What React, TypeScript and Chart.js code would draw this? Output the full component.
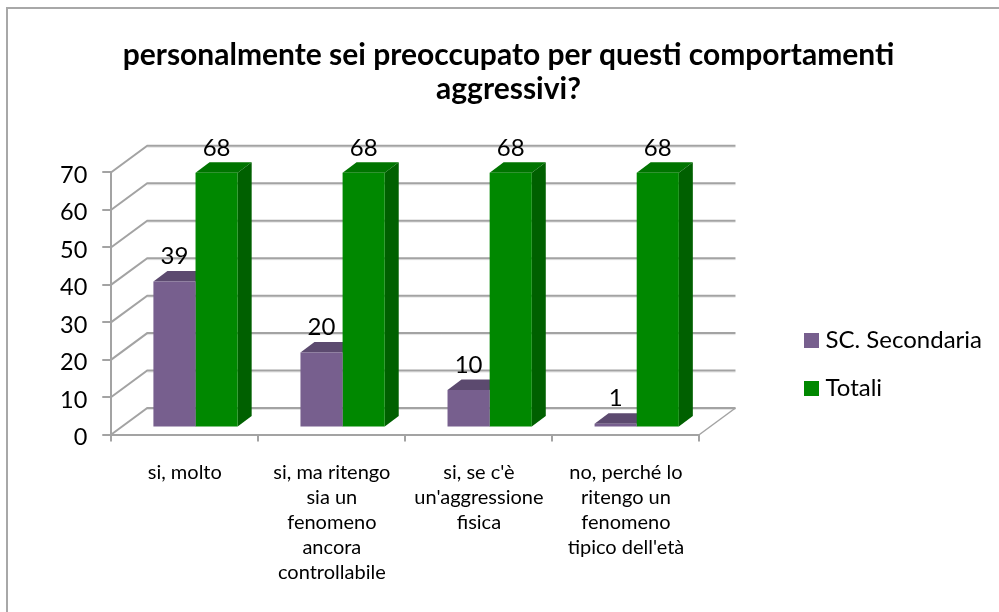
import React, { useEffect, useRef } from "react";
import { Chart, registerables } from "chart.js";

Chart.register(...registerables);

const categories: (string | string[])[] = [
  "si, molto",
  ["si, ma ritengo", "sia un", "fenomeno", "ancora", "controllabile"],
  ["si, se c'è", "un'aggressione", "fisica"],
  ["no, perché lo", "ritengo un", "fenomeno", "tipico dell'età"],
];
const secondaria = [39, 20, 10, 1];
const totali = [68, 68, 68, 68];
const titleLines = ["personalmente sei preoccupato per questi comportamenti", "aggressivi?"];
const FONT = "Lato, Carlito, sans-serif";
const GRID = "#a3a3a3";

const shift = { x: 10.75, y: -7 };
const depth = { x: 14, y: -10.5 };
const wall = { x: 36, y: -26.5 };
const faces: Record<string, { top: string; side: string }> = {
  "SC. Secondaria": { top: "#5c4a6f", side: "#4f3f60" },
  Totali: { top: "#007400", side: "#006000" },
};

function swatch(color: string) {
  const c = document.createElement("canvas");
  c.width = 15;
  c.height = 15;
  const g = c.getContext("2d")!;
  g.fillStyle = color;
  g.fillRect(0, 0, 15, 15);
  return c;
}

const scene = {
  id: "scene",
  afterLayout(chart: any) {
    chart.titleBlock.left = 18;
    chart.titleBlock.right = 999;
    const lg = chart.legend;
    const pad = 24;
    const w = lg.right - lg.left;
    lg.left = 809.5 - pad;
    lg.right = lg.left + w;
    lg.top = 328.5 - pad;
    lg.bottom = lg.top + lg.columnSizes[0].height + pad;
  },
  beforeDraw(chart: any) {
    const { ctx, chartArea: a, scales } = chart;
    ctx.save();
    ctx.fillStyle = "#fff";
    ctx.fillRect(0, 0, chart.width, chart.height);
    ctx.strokeStyle = "#a8a8a8";
    ctx.lineWidth = 2;
    ctx.beginPath();
    ctx.moveTo(7, 612);
    ctx.lineTo(7, 8);
    ctx.lineTo(999, 8);
    ctx.stroke();
    const y = scales.y;
    y.ticks.forEach((t: any) => {
      const py = y.getPixelForValue(t.value);
      ctx.strokeStyle = "rgba(166,166,166,0.3)";
      ctx.lineWidth = 1;
      ctx.beginPath();
      ctx.moveTo(a.left + wall.x, py + wall.y + 1.5);
      ctx.lineTo(a.right + wall.x, py + wall.y + 1.5);
      ctx.stroke();
      ctx.strokeStyle = GRID;
      ctx.lineWidth = 2;
      ctx.beginPath();
      ctx.moveTo(a.left, py);
      ctx.lineTo(a.left + wall.x, py + wall.y);
      ctx.lineTo(a.right + wall.x, py + wall.y);
      ctx.stroke();
    });
    const p0 = y.getPixelForValue(0);
    ctx.strokeStyle = GRID;
    ctx.lineWidth = 1.5;
    ctx.beginPath();
    ctx.moveTo(a.right, p0);
    ctx.lineTo(a.right + wall.x, p0 + wall.y);
    ctx.stroke();
    ctx.restore();
  },
  beforeDatasetsDraw(chart: any) {
    const { ctx } = chart;
    ctx.save();
    ctx.translate(shift.x, shift.y);
    chart.data.datasets.forEach((ds: any, i: number) => {
      const f = faces[ds.label];
      chart.getDatasetMeta(i).data.forEach((bar: any) => {
        const l = bar.x - bar.width / 2;
        const r = bar.x + bar.width / 2;
        ctx.fillStyle = f.top;
        ctx.beginPath();
        ctx.moveTo(l, bar.y);
        ctx.lineTo(l + depth.x, bar.y + depth.y);
        ctx.lineTo(r + depth.x, bar.y + depth.y);
        ctx.lineTo(r, bar.y);
        ctx.closePath();
        ctx.fill();
        ctx.fillStyle = f.side;
        ctx.beginPath();
        ctx.moveTo(r, bar.y);
        ctx.lineTo(r + depth.x, bar.y + depth.y);
        ctx.lineTo(r + depth.x, bar.base + depth.y);
        ctx.lineTo(r, bar.base);
        ctx.closePath();
        ctx.fill();
      });
    });
  },
  afterDatasetsDraw(chart: any) {
    const { ctx } = chart;
    ctx.restore();
    ctx.save();
    ctx.fillStyle = "#000";
    ctx.font = `24px ${FONT}`;
    ctx.textAlign = "center";
    ctx.textBaseline = "middle";
    chart.data.datasets.forEach((ds: any, i: number) => {
      chart.getDatasetMeta(i).data.forEach((bar: any, j: number) => {
        ctx.fillText(String(ds.data[j]), bar.x + shift.x, bar.y + shift.y - 25);
      });
    });
    ctx.restore();
  },
};

export default function App() {
  const ref = useRef<HTMLCanvasElement>(null);
  useEffect(() => {
    const chart = new Chart(ref.current!, {
      type: "bar",
      data: {
        labels: categories as any,
        datasets: [
          { label: "SC. Secondaria", data: secondaria, backgroundColor: "#775f8e", pointStyle: swatch("#775f8e") as any },
          { label: "Totali", data: totali, backgroundColor: "#008800", pointStyle: swatch("#008800") as any },
        ],
      },
      options: {
        responsive: false,
        animation: false,
        datasets: { bar: { categoryPercentage: 0.573, barPercentage: 1 } },
        layout: { padding: { left: 45, right: 93, top: 38.5, bottom: 7.5 } },
        scales: {
          x: {
            grid: { drawOnChartArea: false, color: GRID, lineWidth: 2, tickLength: 7 },
            border: { color: GRID, width: 2 },
            ticks: {
              color: "#000",
              font: { family: FONT, size: 20, lineHeight: 1.25 },
              padding: 19,
              maxRotation: 0,
              minRotation: 0,
              autoSkip: false,
            },
          },
          y: {
            min: 0,
            max: 70,
            grid: { drawOnChartArea: false, color: GRID, lineWidth: 2, tickLength: 9 },
            border: { color: GRID, width: 2 },
            ticks: {
              stepSize: 10,
              color: "#000",
              font: { family: FONT, size: 23.5 },
              padding: 15,
              labelOffset: 3,
            },
          },
        },
        plugins: {
          title: {
            display: true,
            text: titleLines,
            color: "#000",
            font: { family: FONT, size: 30, weight: "bold", lineHeight: 1.13 },
            padding: { top: 0, bottom: 66 },
          },
          legend: {
            position: "right",
            labels: {
              color: "#000",
              font: { family: FONT, size: 24 },
              padding: 24,
              boxWidth: 4,
              usePointStyle: true,
            },
          },
          tooltip: { enabled: false },
        },
      },
      plugins: [scene],
    } as any);
    return () => chart.destroy();
  }, []);
  return (
    <div style={{ position: "fixed", left: 0, top: 0, width: 999, height: 612, background: "#fff" }}>
      <canvas ref={ref} width={999} height={612} style={{ display: "block" }} />
    </div>
  );
}
